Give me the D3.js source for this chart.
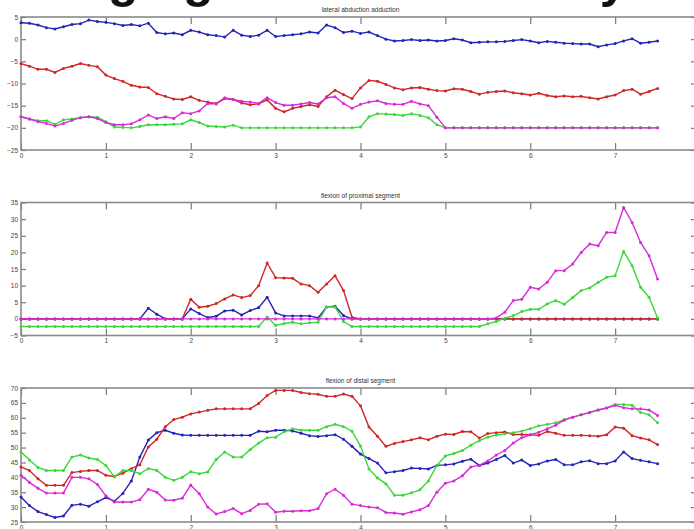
<!DOCTYPE html>
<html>
<head>
<meta charset="utf-8">
<script src="https://cdn.jsdelivr.net/npm/d3@7"></script>
<style>
body { margin: 0; background: #fff; }
svg { display: block; font-family: "Liberation Sans", Arial, sans-serif; }
</style>
</head>
<body>
<svg id="chart"></svg>
<script>
let w = 694;
let h = 529;
let svg = d3.select("#chart");

let heading = "Changing motions of every day";
let titles = ["lateral abduction adduction", "flexion of proximal segment", "flexion of distal segment"];
let colors = ["#2424b8", "#d02626", "#3ad83a", "#d82ad8"];

let xTicks = [0, 1, 2, 3, 4, 5, 6, 7];
let topTicks = [-25, -20, -15, -10, -5, 0, 5];
let midTicks = [-5, 0, 5, 10, 15, 20, 25, 30, 35];
let botTicks = [25, 30, 35, 40, 45, 50, 55, 60, 65, 70];

let times = [0, 0.1, 0.2, 0.3, 0.4, 0.5, 0.6, 0.7, 0.8, 0.9,
    1.0, 1.1, 1.2, 1.3, 1.4, 1.5, 1.6, 1.7, 1.8, 1.9,
    2.0, 2.1, 2.2, 2.3, 2.4, 2.5, 2.6, 2.7, 2.8, 2.9,
    3.0, 3.1, 3.2, 3.3, 3.4, 3.5, 3.6, 3.7, 3.8, 3.9,
    4.0, 4.1, 4.2, 4.3, 4.4, 4.5, 4.6, 4.7, 4.8, 4.9,
    5.0, 5.1, 5.2, 5.3, 5.4, 5.5, 5.6, 5.7, 5.8, 5.9,
    6.0, 6.1, 6.2, 6.3, 6.4, 6.5, 6.6, 6.7, 6.8, 6.9,
    7.0, 7.1, 7.2, 7.3, 7.4, 7.5];

// lateral abduction adduction
let topBlue = [3.7, 3.6, 3.2, 2.6, 2.3, 2.8, 3.3, 3.5, 4.3, 4.0,
    3.8, 3.5, 3.1, 3.3, 3.0, 3.6, 1.5, 1.2, 1.4, 1.0,
    2.0, 1.6, 1.0, 0.8, 0.5, 2.0, 0.9, 0.6, 0.9, 2.0,
    0.6, 0.8, 1.0, 1.2, 1.6, 1.4, 3.2, 2.6, 1.5, 1.8,
    1.3, 1.6, 0.8, 0.0, -0.4, -0.3, -0.1, -0.3, -0.2, -0.4,
    -0.3, 0.1, -0.2, -0.8, -0.7, -0.6, -0.6, -0.5, -0.3, -0.1,
    -0.4, -0.8, -0.5, -0.7, -0.9, -1.0, -1.1, -1.1, -1.7, -1.3,
    -1.0, -0.4, 0.1, -0.9, -0.7, -0.4];
let topRed = [-5.5, -6.1, -6.8, -6.8, -7.5, -6.6, -6.1, -5.5, -5.9, -6.2,
    -8.1, -8.9, -9.5, -10.4, -10.8, -10.9, -12.3, -12.9, -13.5, -13.6,
    -13.0, -13.8, -14.2, -14.5, -13.4, -13.6, -14.4, -14.8, -14.6, -13.7,
    -15.6, -16.4, -15.6, -15.2, -14.8, -15.2, -13.0, -11.5, -12.5, -13.4,
    -11.0, -9.3, -9.5, -10.2, -11.0, -11.4, -11.0, -10.9, -11.3, -11.6,
    -11.7, -11.2, -11.3, -11.8, -12.4, -12.0, -11.8, -11.7, -12.1, -12.3,
    -12.6, -12.2, -12.7, -13.0, -12.8, -13.0, -12.9, -13.2, -13.5, -13.0,
    -12.6, -11.6, -11.3, -12.4, -11.8, -11.1];
let topGreen = [-17.5, -18.0, -18.4, -18.4, -19.2, -18.2, -18.0, -17.7, -17.5, -17.6,
    -18.6, -19.8, -19.9, -20, -19.7, -19.3, -19.3, -19.3, -19.2, -19.1,
    -18.2, -18.8, -19.6, -19.7, -19.8, -19.4, -20, -20, -20, -20,
    -20, -20, -20, -20, -20, -20, -20, -20, -20, -20,
    -19.8, -17.5, -16.8, -16.9, -17.0, -17.2, -16.8, -17.2, -17.7, -19.3,
    -20, -20, -20, -20, -20, -20, -20, -20, -20, -20,
    -20, -20, -20, -20, -20, -20, -20, -20, -20, -20,
    -20, -20, -20, -20, -20, -20];
let topMagenta = [-17.5, -18.0, -18.6, -19.0, -19.6, -19.0, -18.3, -17.7, -17.5, -17.9,
    -18.8, -19.3, -19.3, -19.1, -18.2, -17.1, -17.9, -17.5, -17.9, -16.6,
    -16.8, -16.2, -14.5, -14.6, -13.2, -13.6, -14.0, -14.2, -14.5, -13.2,
    -14.3, -14.9, -14.9, -14.6, -14.3, -14.6, -13.2, -13.0, -14.5, -15.6,
    -14.7, -14.2, -13.9, -14.5, -14.7, -14.7, -14.0, -14.6, -15.0, -17.6,
    -20, -20, -20, -20, -20, -20, -20, -20, -20, -20,
    -20, -20, -20, -20, -20, -20, -20, -20, -20, -20,
    -20, -20, -20, -20, -20, -20];

// flexion of proximal segment
let midBlue = [0, 0, 0, 0, 0, 0, 0, 0, 0, 0,
    0, 0, 0, 0, 0, 3.2, 1.4, 0, 0, 0,
    3.0, 1.6, 0.4, 0.8, 2.4, 2.6, 1.2, 2.5, 3.4, 6.5,
    1.8, 0.9, 0.9, 0.9, 0.9, 0.3, 3.6, 3.8, 1.0, 0,
    0, 0, 0, 0, 0, 0, 0, 0, 0, 0,
    0, 0, 0, 0, 0, 0, 0, 0, 0, 0,
    0, 0, 0, 0, 0, 0, 0, 0, 0, 0,
    0, 0, 0, 0, 0, 0];
let midRed = [0, 0, 0, 0, 0, 0, 0, 0, 0, 0,
    0, 0, 0, 0, 0, 0, 0, 0, 0, 0,
    5.9, 3.5, 3.8, 4.6, 6.0, 7.2, 6.4, 7.0, 10.0, 16.8,
    12.4, 12.3, 12.2, 10.5, 10.0, 8.0, 10.5, 13.0, 8.5, 0.5,
    0, 0, 0, 0, 0, 0, 0, 0, 0, 0,
    0, 0, 0, 0, 0, 0, 0, 0, 0, 0,
    0, 0, 0, 0, 0, 0, 0, 0, 0, 0,
    0, 0, 0, 0, 0, 0];
let midGreen = [-2.3, -2.3, -2.3, -2.3, -2.3, -2.3, -2.3, -2.3, -2.3, -2.3,
    -2.3, -2.3, -2.3, -2.3, -2.3, -2.3, -2.3, -2.3, -2.3, -2.3,
    -2.3, -2.3, -2.3, -2.3, -2.3, -2.3, -2.3, -2.3, -2.3, 0.6,
    -2.0, -1.4, -1.0, -1.5, -1.2, -1.0, 3.6, 3.6, -0.8, -2.3,
    -2.3, -2.3, -2.3, -2.3, -2.3, -2.3, -2.3, -2.3, -2.3, -2.3,
    -2.3, -2.3, -2.3, -2.3, -2.3, -1.5, -0.8, 0.2, 1.0, 2.2,
    2.9, 2.9, 4.5, 5.5, 4.4, 6.4, 8.5, 9.3, 11.0, 12.5,
    13.0, 20.3, 16.0, 9.5, 6.5, 0.3];
let midMagenta = [0, 0, 0, 0, 0, 0, 0, 0, 0, 0,
    0, 0, 0, 0, 0, 0, 0, 0, 0, 0,
    0, 0, 0, 0, 0, 0, 0, 0, 0, 0,
    0, 0, 0, 0, 0, 0, 0, 0, 0, 0,
    0, 0, 0, 0, 0, 0, 0, 0, 0, 0,
    0, 0, 0, 0, 0, 0, 0.3, 2.0, 5.5, 5.9,
    9.5, 9.0, 11.0, 14.5, 14.5, 16.5, 20.0, 22.5, 22.0, 26.0,
    26.0, 33.5, 29.0, 23.0, 19.0, 12.0];

// flexion of distal segment
let botBlue = [33.4, 30.5, 28.5, 27.5, 26.5, 27.0, 30.6, 31.0, 30.3, 31.8,
    33.2, 32.0, 34.6, 38.8, 46.8, 52.5, 55.0, 55.8, 54.8, 54.2,
    54.1, 54.1, 54.1, 54.1, 54.1, 54.1, 54.1, 54.1, 55.5, 55.3,
    55.8, 55.8, 55.6, 54.8, 54.0, 53.7, 54.0, 54.3, 52.8, 50.4,
    47.8, 46.3, 44.8, 41.5, 41.9, 42.3, 43.1, 43.0, 42.8, 44.0,
    44.2, 44.5, 45.4, 46.1, 44.0, 44.8, 46.0, 47.3, 44.8, 45.8,
    44.0, 44.5, 45.5, 46.0, 44.2, 44.2, 45.2, 45.6, 44.6, 44.6,
    45.5, 48.5, 46.3, 45.7, 45.2, 44.6];
let botRed = [43.5, 42.3, 39.5, 37.3, 37.3, 37.3, 41.6, 42.0, 42.3, 42.3,
    40.7, 40.3, 41.4, 42.9, 44.2, 50.2, 52.8, 57.0, 59.4, 60.2,
    61.3, 61.9, 62.5, 63.0, 63.0, 63.0, 63.0, 63.0, 64.8, 67.5,
    69.2, 69.2, 69.2, 68.5, 68.1, 67.9, 67.2, 67.2, 68.0, 67.2,
    64.0, 56.9, 53.8, 50.4, 51.4, 52.0, 52.6, 53.3, 52.6, 53.8,
    54.5, 54.4, 55.4, 55.3, 53.2, 54.7, 55.0, 55.2, 54.4, 54.4,
    54.3, 54.1, 55.4, 54.8, 54.1, 54.1, 54.1, 54.0, 53.8, 54.3,
    56.9, 56.5, 54.0, 53.2, 52.6, 51.0];
let botGreen = [48.5, 45.8, 43.3, 42.3, 42.3, 42.3, 46.8, 47.5, 46.5, 46.0,
    44.0, 40.1, 42.3, 42.3, 41.2, 43.0, 42.3, 40.0, 39.0, 40.0,
    41.9, 41.2, 41.8, 46.0, 48.5, 46.8, 46.8, 49.3, 51.5, 53.3,
    53.5, 55.3, 56.3, 55.8, 55.8, 55.8, 57.0, 57.8, 57.0, 55.5,
    50.5, 42.8, 39.8, 37.8, 34.0, 34.0, 34.8, 35.8, 38.8, 44.0,
    47.2, 48.0, 49.0, 50.8, 52.3, 53.5, 54.2, 54.6, 55.0, 55.5,
    56.3, 57.3, 57.8, 58.3, 59.4, 60.2, 61.0, 61.8, 62.6, 63.3,
    64.5, 64.5, 64.2, 61.8, 61.0, 58.3];
let botMagenta = [40.7, 38.3, 36.3, 34.7, 34.7, 34.7, 40.0, 40.0, 39.5, 37.6,
    33.8, 31.7, 31.7, 31.7, 32.5, 36.0, 35.0, 32.4, 32.3, 33.0,
    37.4, 34.5, 30.0, 27.7, 28.5, 29.5, 27.8, 28.9, 31.0, 31.1,
    28.3, 28.6, 28.6, 28.8, 28.8, 29.5, 34.5, 36.0, 34.0, 31.0,
    30.5, 30.0, 29.8, 28.2, 28.0, 27.6, 28.4, 29.1, 30.5, 35.0,
    38.0, 38.8, 40.5, 43.5, 44.0, 45.5, 47.5, 49.0, 51.5, 53.3,
    54.3, 55.1, 56.3, 57.5, 59.2, 60.2, 61.0, 61.8, 62.6, 63.3,
    64.2, 63.4, 63.0, 63.0, 62.6, 60.8];

let left = 21;
let right = 700;

let panels = [
    { title: titles[0], top: 17, bottom: 150, domain: [-25, 5], ticks: topTicks,
      series: [topBlue, topRed, topGreen, topMagenta] },
    { title: titles[1], top: 202.5, bottom: 335.5, domain: [-5, 35], ticks: midTicks,
      series: [midBlue, midRed, midGreen, midMagenta] },
    { title: titles[2], top: 388, bottom: 522, domain: [25, 70], ticks: botTicks,
      series: [botBlue, botRed, botGreen, botMagenta] }
];

let drawCanvas = () => {
    svg.attr("width", w)
       .attr("height", h)
    svg.append("rect")
       .attr("width", w)
       .attr("height", h)
       .attr("fill", "#fff")

    // big slide heading, mostly above the top of the picture
    svg.append("text")
       .attr("x", -17)
       .attr("y", -3)
       .attr("font-size", 50)
       .attr("font-weight", "bold")
       .attr("fill", "#111")
       .text(heading)
}

let xScale = d3.scaleLinear()
               .domain([0, 8])
               .range([left, right])

let drawPanel = (p) => {
    let yScale = d3.scaleLinear()
                   .domain(p.domain)
                   .range([p.bottom, p.top])

    let g = svg.append("g")

    let styleAxis = (a) => {
        a.select(".domain").remove()
        a.selectAll(".tick line").attr("stroke", "#7a7a7a").attr("stroke-width", 1.2)
        a.selectAll(".tick text").attr("fill", "#444").attr("font-size", 6.5)
           .attr("font-family", "\"Liberation Sans\", Arial, sans-serif")
    }

    g.append("g")
     .attr("transform", `translate(0, ${p.bottom})`)
     .call(d3.axisBottom(xScale).tickValues(xTicks).tickSizeInner(-7).tickSizeOuter(0).tickPadding(3))
     .call(styleAxis)

    g.append("g")
     .attr("transform", `translate(0, ${p.top})`)
     .call(d3.axisTop(xScale).tickValues(xTicks).tickSizeInner(-7).tickSizeOuter(0).tickFormat(""))
     .call(styleAxis)

    g.append("g")
     .attr("transform", `translate(${left}, 0)`)
     .call(d3.axisLeft(yScale).tickValues(p.ticks).tickSizeInner(-5).tickSizeOuter(0).tickPadding(3))
     .call(styleAxis)

    g.append("g")
     .attr("transform", `translate(${right - 3}, 0)`)
     .call(d3.axisRight(yScale).tickValues(p.ticks).tickSizeInner(-6).tickSizeOuter(0).tickFormat(""))
     .call(styleAxis)

    g.append("rect")
     .attr("x", left)
     .attr("y", p.top)
     .attr("width", right - left)
     .attr("height", p.bottom - p.top)
     .attr("fill", "none")
     .attr("stroke", "#8a8a8a")
     .attr("stroke-width", 1.6)

    g.append("text")
     .attr("x", (left + right) / 2)
     .attr("y", p.top - 5)
     .attr("text-anchor", "middle")
     .attr("font-size", 6.5)
     .attr("fill", "#333")
     .text(p.title)

    let line = d3.line()
                 .x((d, i) => xScale(times[i]))
                 .y((d) => yScale(d))

    p.series.forEach((s, k) => {
        let sg = g.append("g")
        sg.append("path")
          .datum(s)
          .attr("d", line)
          .attr("fill", "none")
          .attr("stroke", colors[k])
          .attr("stroke-width", 1.4)
        sg.selectAll("circle")
          .data(s)
          .enter()
          .append("circle")
          .attr("cx", (d, i) => xScale(times[i]))
          .attr("cy", (d) => yScale(d))
          .attr("r", 1.5)
          .attr("fill", colors[k])
    })
}

drawCanvas()
panels.forEach(drawPanel)
</script>
</body>
</html>
